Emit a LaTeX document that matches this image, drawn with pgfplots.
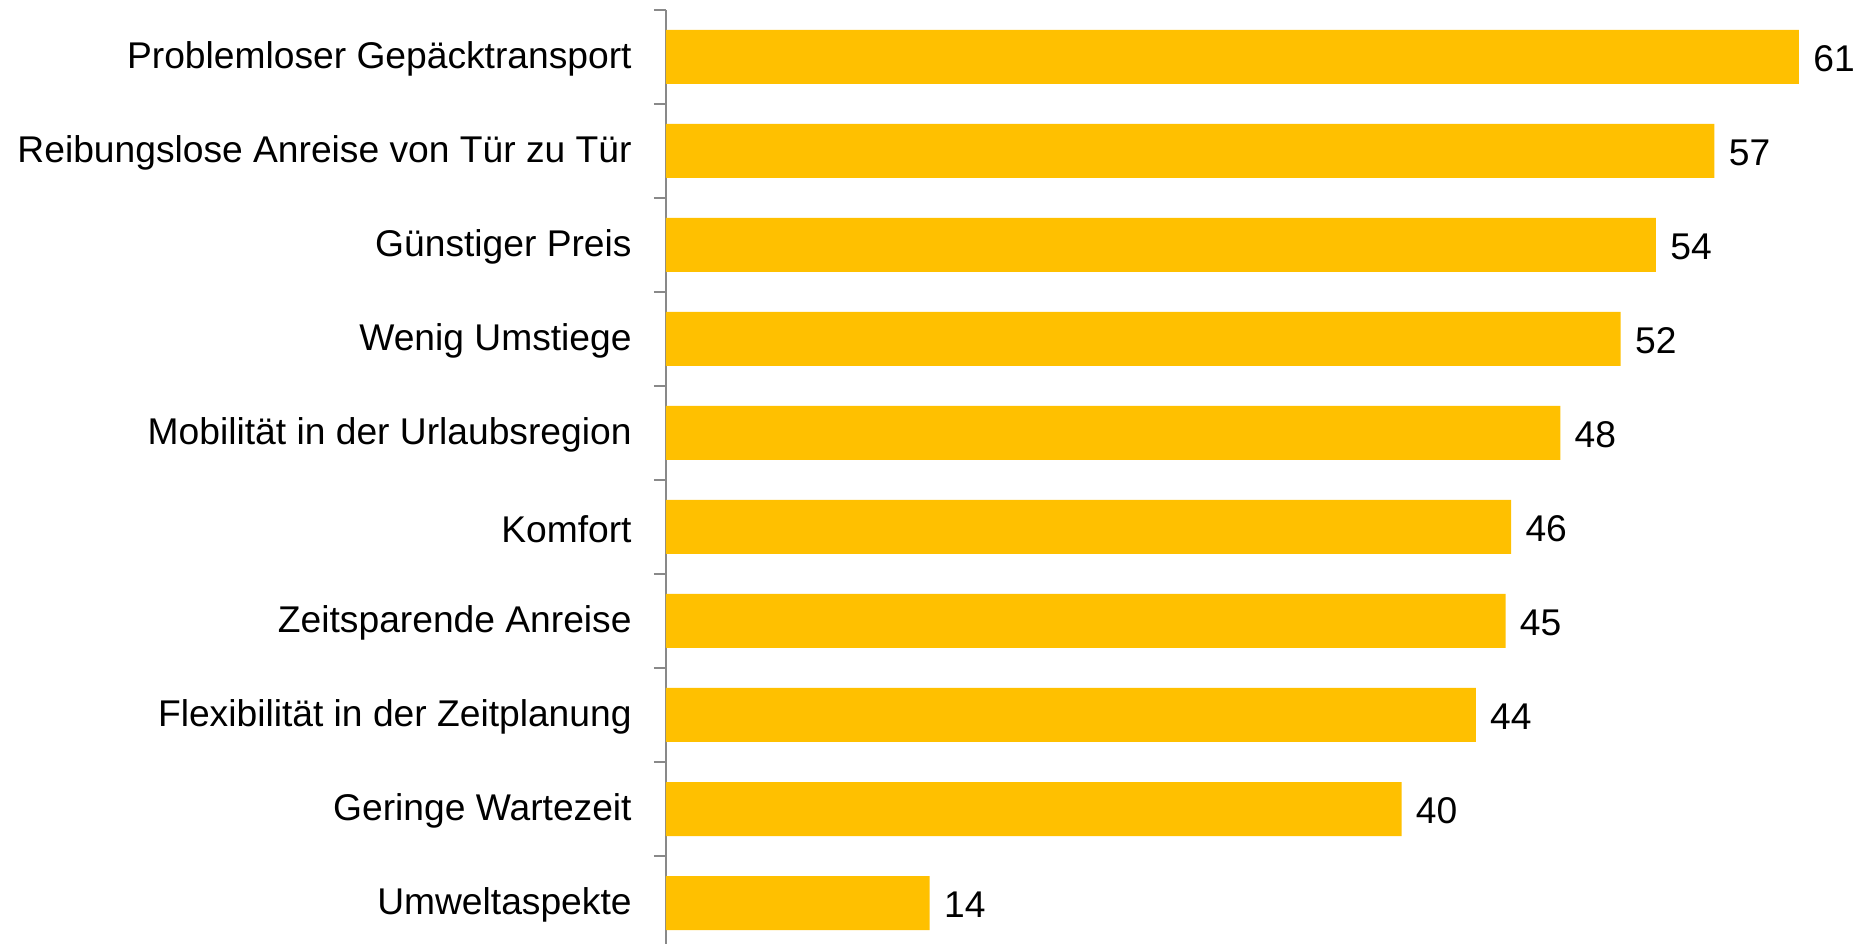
\documentclass[border=0pt]{standalone}
\usepackage{pgfplots}
\pgfplotsset{compat=1.18}
\usepackage{fontspec}
\setmainfont{Liberation Sans}
\definecolor{bargold}{RGB}{255,192,0}
\definecolor{axgray}{RGB}{137,137,137}
\begin{document}
\begin{tikzpicture}
\begin{axis}[
  scale only axis,
  width=566.5pt, height=467pt,
  xmin=0, xmax=61,
  ymin=-0.436, ymax=9.5,
  axis x line=none,
  axis y line*=left,
  y axis line style={axgray, line width=1pt},
  xbar, bar width=27pt,
  ytick={0,...,9},
  yticklabels={Umweltaspekte,Geringe Wartezeit,Flexibilität in der Zeitplanung,Zeitsparende Anreise,Komfort,Mobilität in der Urlaubsregion,Wenig Umstiege,Günstiger Preis,Reibungslose Anreise von Tür zu Tür,Problemloser Gepäcktransport},
  major tick length=0pt,
  minor ytick={-0.5,0.5,...,9.5},
  minor tick length=6pt,
  tick align=outside,
  minor tick style={axgray, line width=1pt},
  yticklabel style={font=\fontsize{18.6}{22}\selectfont, inner sep=0pt, anchor=east, xshift=-17pt, yshift=-1pt},
  point meta=explicit symbolic,
  nodes near coords,
  nodes near coords style={font=\fontsize{18.6}{22}\selectfont, black, inner sep=0pt, anchor=west, xshift=7pt, yshift=-1pt},
  clip=false,
]
\addplot[fill=bargold, draw=none] coordinates {
(14.2,0) [14] (39.6,1) [40] (43.6,2) [44] (45.2,3) [45] (45.5,4) [46] (48.15,5) [48] (51.4,6) [52] (53.3,7) [54] (56.45,8) [57] (61,9) [61]};
\coordinate (bl) at (rel axis cs:0,0);
\coordinate (tr) at (rel axis cs:1,1);
\end{axis}
\pgfresetboundingbox
\path ([xshift=-333pt]bl) rectangle ([xshift=32pt,yshift=5pt]tr);
\end{tikzpicture}
\end{document}
